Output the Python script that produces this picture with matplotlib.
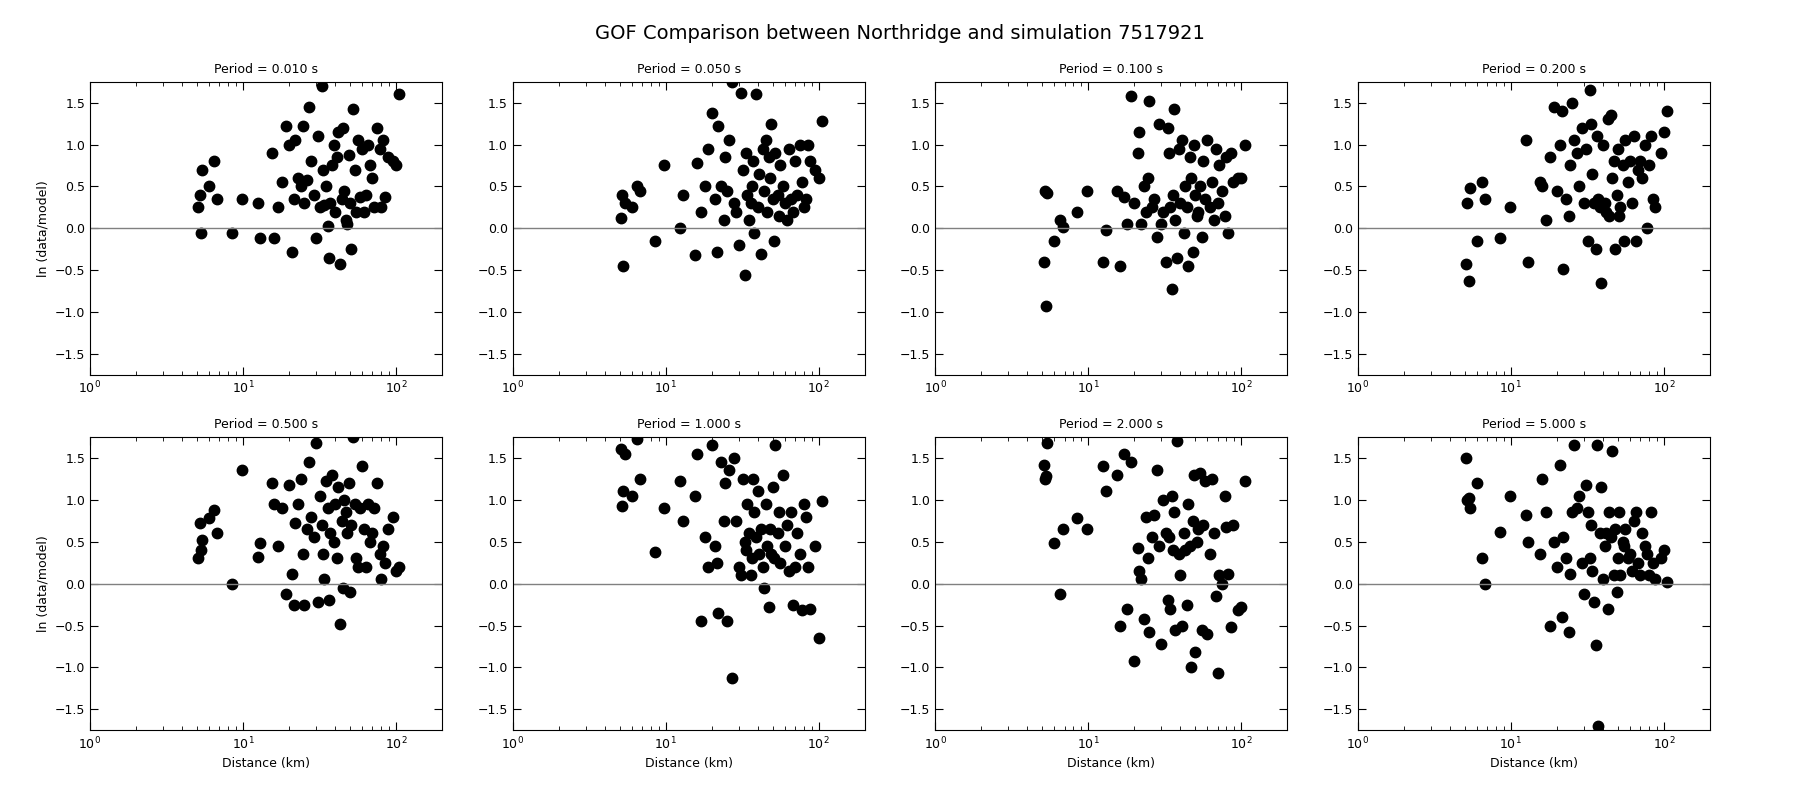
import numpy as np
import matplotlib
matplotlib.use('Agg')
import matplotlib.pyplot as plt

dist = [5.1,5.2,5.3,5.4,6.0,6.5,6.8,8.5,9.8,12.5,
        13,15.5,16,17,18,19,20,21,21.5,22,
        23,24,24.5,25,26,27,28,29,30,31,
        32,33,33.5,34,35,36,36.5,37,38,39,
        40,41,42,43,44,45,46,47,48,49,
        50,51,52,54,55,56,58,60,62,64,
        66,68,70,72,75,78,80,82,85,88,
        95,100,105]

periods = ['0.010','0.050','0.100','0.200','0.500','1.000','2.000','5.000']

p1 = [0.25,0.4,-0.05,0.7,0.5,0.8,0.35,-0.05,0.35,0.3,
      -0.12,0.9,-0.12,0.25,0.55,1.22,1.0,-0.28,0.35,1.05,
      0.6,0.5,1.22,0.3,0.58,1.45,0.8,0.4,-0.12,1.1,
      0.25,1.7,0.7,0.28,0.5,0.03,-0.35,0.3,0.75,1.0,
      0.2,0.85,1.15,-0.42,0.35,1.2,0.45,0.1,0.05,0.88,
      0.3,-0.25,1.42,0.7,0.2,1.05,0.38,0.95,0.2,0.4,
      1.0,0.75,0.6,0.25,1.2,0.95,0.25,1.05,0.38,0.85,
      0.8,0.75,1.6]
p2 = [0.12,0.4,-0.45,0.3,0.25,0.5,0.45,-0.15,0.75,0.0,
      0.4,-0.32,0.78,0.2,0.5,0.95,1.38,0.35,-0.28,1.22,
      0.5,0.1,0.85,0.45,1.05,1.75,0.3,0.2,-0.2,1.62,
      0.7,-0.55,0.9,0.4,0.1,0.3,0.5,0.8,-0.05,1.6,
      0.25,0.65,-0.3,0.95,0.45,1.05,0.2,0.85,0.6,1.25,
      0.35,-0.15,0.9,0.4,0.15,0.75,0.5,0.3,0.1,0.95,
      0.35,0.2,0.8,0.4,1.0,0.55,0.25,0.35,1.0,0.8,
      0.7,0.6,1.28]
p3 = [-0.4,0.45,-0.92,0.42,-0.15,0.1,0.02,0.2,0.45,-0.4,
      -0.02,0.45,-0.45,0.38,0.05,1.58,0.3,0.9,1.15,0.05,
      0.5,0.2,0.6,1.52,0.25,0.35,-0.1,1.25,0.05,0.2,
      -0.4,1.2,0.9,0.25,-0.72,0.4,1.42,0.1,-0.35,0.95,
      0.3,1.05,-0.05,0.5,0.25,-0.45,0.85,0.6,-0.28,1.0,
      0.4,0.15,0.2,0.5,-0.1,0.8,0.35,1.05,0.25,0.55,
      0.1,0.95,0.3,0.75,0.45,0.15,0.85,-0.05,0.9,0.55,
      0.6,0.6,1.0]
p4 = [-0.42,0.3,-0.63,0.48,-0.15,0.55,0.35,-0.12,0.25,1.05,
      -0.4,0.55,0.5,0.1,0.85,1.45,0.45,1.0,1.4,-0.48,
      0.35,0.15,0.75,1.5,1.05,0.9,0.5,1.2,0.3,0.95,
      -0.15,1.65,1.25,0.65,0.3,-0.25,1.1,0.35,0.25,-0.65,
      1.0,0.3,0.2,1.3,0.15,1.35,0.6,0.8,-0.25,0.4,
      0.95,0.15,0.25,0.75,-0.15,1.05,0.55,0.8,0.3,1.1,
      -0.15,0.7,0.8,0.6,1.0,0.0,0.75,1.1,0.35,0.25,
      0.9,1.15,1.4]
p5 = [0.3,0.72,0.4,0.52,0.78,0.88,0.6,0.0,1.35,0.32,
      0.48,1.2,0.95,0.45,0.9,-0.12,1.18,0.12,-0.25,0.72,
      0.95,1.25,0.35,-0.25,0.65,1.45,0.8,0.55,1.68,-0.22,
      1.05,0.7,0.35,0.05,1.22,0.9,-0.2,0.6,1.3,0.5,
      0.95,0.3,1.15,-0.48,0.75,-0.05,1.0,0.85,0.6,1.2,
      -0.1,0.7,1.75,0.95,0.3,0.2,0.9,1.4,0.65,0.2,
      0.95,0.5,0.6,0.9,1.2,0.35,0.05,0.45,0.25,0.65,
      0.8,0.15,0.2]
p6 = [1.6,0.92,1.1,1.55,1.05,1.72,1.25,0.38,0.9,1.22,
      0.75,1.05,1.55,-0.45,0.55,0.2,1.65,0.45,0.25,-0.35,
      1.45,0.75,1.2,-0.45,1.35,-1.13,1.5,0.75,0.2,0.1,
      1.25,0.5,0.4,0.95,0.6,0.1,0.3,1.25,0.85,0.55,
      1.1,0.35,0.65,0.2,-0.05,0.95,0.45,-0.28,0.65,0.35,
      1.15,0.3,1.65,0.6,0.85,0.25,1.3,0.45,0.7,0.15,
      0.85,-0.25,0.2,0.6,0.35,-0.32,0.95,0.8,0.2,-0.3,
      0.45,-0.65,0.98]
p7 = [1.42,1.25,1.28,1.68,0.48,-0.12,0.65,0.78,0.65,1.4,
      1.1,1.3,-0.5,1.55,-0.3,1.45,-0.92,0.42,0.15,0.05,
      -0.42,0.8,0.3,-0.58,0.55,0.82,1.35,0.45,-0.72,1.0,
      0.6,-0.2,0.55,-0.3,1.05,0.4,0.85,-0.55,1.7,0.35,
      0.1,-0.5,0.6,0.4,-0.25,0.95,0.45,-1.0,0.75,1.3,
      -0.82,0.5,0.65,1.32,-0.55,0.7,1.22,-0.6,0.35,1.25,
      0.6,-0.15,-1.07,0.1,0.0,1.05,0.68,0.12,-0.52,0.7,
      -0.32,-0.28,1.22]
p8 = [1.5,1.0,1.02,0.9,1.2,0.3,0.0,0.62,1.05,0.82,
      0.5,0.35,1.25,0.85,-0.5,0.5,0.2,1.42,-0.4,0.55,
      0.3,-0.58,0.12,0.85,1.65,0.9,1.05,0.25,-0.12,1.18,
      0.85,0.3,0.7,0.15,-0.22,-0.73,1.65,-1.7,0.6,1.15,
      0.05,0.45,0.6,-0.3,0.85,0.55,1.58,0.1,0.65,-0.1,
      0.3,0.85,0.1,0.5,0.45,0.65,0.3,0.35,0.15,0.75,
      0.85,0.25,0.1,0.6,0.45,0.35,0.1,0.85,0.25,0.05,
      0.3,0.4,0.02]
resid = [p1, p2, p3, p4, p5, p6, p7, p8]

fig, axs = plt.subplots(2, 4, figsize=(18, 8), dpi=100)
plt.subplots_adjust(left=0.05, right=0.95, top=0.898, bottom=0.087, wspace=0.2, hspace=0.21)
fig.suptitle('GOF Comparison between Northridge and simulation 7517921', fontsize=14, y=0.97)

for i, ax in enumerate(axs.flat):
    ax.plot(dist, resid[i], 'ko', markersize=7.5)
    ax.axhline(0, color='grey', lw=1)
    ax.set_xscale('log')
    ax.set_xlim(1, 200)
    ax.set_ylim(-1.75, 1.75)
    ax.set_yticks([-1.5, -1.0, -0.5, 0.0, 0.5, 1.0, 1.5])
    ax.tick_params(which='both', direction='in', top=True, right=True, labelsize=9)
    ax.tick_params(which='major', length=6)
    ax.tick_params(which='minor', length=3)
    ax.set_title('Period = %s s' % periods[i], fontsize=9)
    if i % 4 == 0:
        ax.set_ylabel('ln (data/model)', fontsize=9)
    if i >= 4:
        ax.set_xlabel('Distance (km)', fontsize=9)

plt.savefig('out.png')
